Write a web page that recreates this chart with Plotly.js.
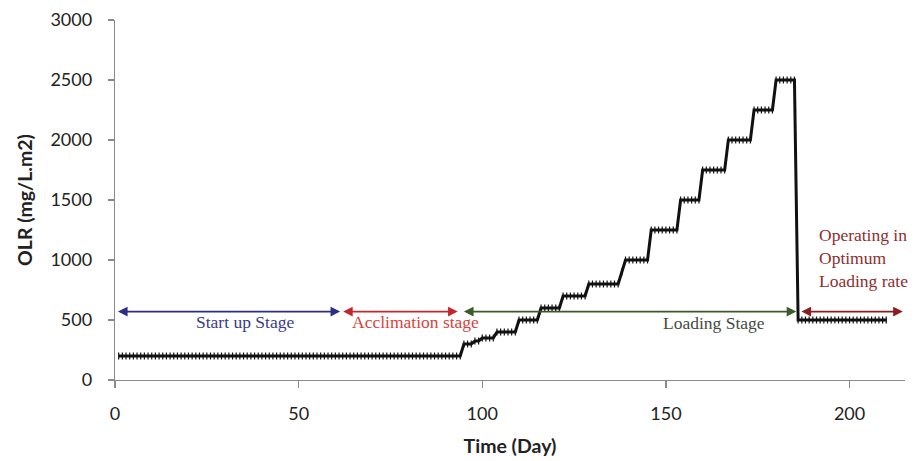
<!DOCTYPE html>
<html>
<head>
<meta charset="utf-8">
<script src="https://cdn.plot.ly/plotly-3.0.1.min.js"></script>
<style>html,body{margin:0;padding:0;background:#fff;}#chart{width:915px;height:461px;}</style>
</head>
<body>
<div id="chart"></div>
<script>
// Day of operation
const days = [
  1,2,3,4,5,6,7,8,9,10,
  11,12,13,14,15,16,17,18,19,20,
  21,22,23,24,25,26,27,28,29,30,
  31,32,33,34,35,36,37,38,39,40,
  41,42,43,44,45,46,47,48,49,50,
  51,52,53,54,55,56,57,58,59,60,
  61,62,63,64,65,66,67,68,69,70,
  71,72,73,74,75,76,77,78,79,80,
  81,82,83,84,85,86,87,88,89,90,
  91,92,93,94,95,96,97,98,99,100,
  101,102,103,104,105,106,107,108,109,110,
  111,112,113,114,115,116,117,118,119,120,
  121,122,123,124,125,126,127,128,129,130,
  131,132,133,134,135,136,137,138,139,140,
  141,142,143,144,145,146,147,148,149,150,
  151,152,153,154,155,156,157,158,159,160,
  161,162,163,164,165,166,167,168,169,170,
  171,172,173,174,175,176,177,178,179,180,
  181,182,183,184,185,186,187,188,189,190,
  191,192,193,194,195,196,197,198,199,200,
  201,202,203,204,205,206,207,208,209,210
];
// Organic loading rate (mg/L.m2)
const olr = [
  200,200,200,200,200,200,200,200,200,200,
  200,200,200,200,200,200,200,200,200,200,
  200,200,200,200,200,200,200,200,200,200,
  200,200,200,200,200,200,200,200,200,200,
  200,200,200,200,200,200,200,200,200,200,
  200,200,200,200,200,200,200,200,200,200,
  200,200,200,200,200,200,200,200,200,200,
  200,200,200,200,200,200,200,200,200,200,
  200,200,200,200,200,200,200,200,200,200,
  200,200,200,200,300,300,300,325,325,350,
  350,350,350,400,400,400,400,400,400,500,
  500,500,500,500,500,600,600,600,600,600,
  600,700,700,700,700,700,700,700,800,800,
  800,800,800,800,800,800,800,900,1000,1000,
  1000,1000,1000,1000,1000,1250,1250,1250,1250,1250,
  1250,1250,1250,1500,1500,1500,1500,1500,1500,1750,
  1750,1750,1750,1750,1750,1750,2000,2000,2000,2000,
  2000,2000,2000,2250,2250,2250,2250,2250,2250,2500,
  2500,2500,2500,2500,2500,500,500,500,500,500,
  500,500,500,500,500,500,500,500,500,500,
  500,500,500,500,500,500,500,500,500,500
];
// Stage arrows and labels
const stageNames = ['Start up Stage', 'Acclimation stage', 'Loading Stage', 'Operating in<br>Optimum<br>Loading rate'];
const stageStart = [0.4, 61.7, 94.6, 186.5];
const stageEnd = [61.3, 93.3, 185.5, 214.5];
const stageArrowY = 570;
const stageLabelX = [35.4, 81.7, 163, 191.2];
const stageLabelY = [480, 480, 475, 1017];
const stageArrowColor = ['#2b2d86', '#c4262e', '#3b5b2b', '#8c1c1f'];
const stageTextColor = ['#3a3c8c', '#d8423c', '#434c3f', '#8e2e30'];
const xTicks = [0, 50, 100, 150, 200];
const yTicks = [0, 500, 1000, 1500, 2000, 2500, 3000];

const annotations = [];
for (let i = 0; i < stageNames.length; i++) {
  annotations.push({
    x: stageEnd[i], y: stageArrowY, ax: stageStart[i], ay: stageArrowY,
    xref: 'x', yref: 'y', axref: 'x', ayref: 'y',
    text: '', showarrow: true, arrowside: 'end+start',
    arrowhead: 2, arrowsize: 1.2, arrowwidth: 1.6, arrowcolor: stageArrowColor[i]
  });
  annotations.push({
    x: stageLabelX[i], y: stageLabelY[i], xref: 'x', yref: 'y',
    text: stageNames[i], showarrow: false,
    xanchor: i === 3 ? 'left' : 'center', align: 'left',
    font: {family: 'Liberation Serif, Times New Roman, serif', size: 17.5, color: stageTextColor[i]}
  });
}

const trace = {
  x: days, y: olr, type: 'scatter', mode: 'lines+markers',
  line: {color: '#111', width: 3},
  marker: {symbol: 'line-ns-open', size: 5, color: '#111', line: {color: '#111', width: 1.2}},
  hoverinfo: 'skip'
};

const layout = {
  width: 915, height: 461,
  margin: {l: 115, r: 10, t: 20, b: 81},
  paper_bgcolor: '#fff', plot_bgcolor: '#fff',
  showlegend: false,
  font: {family: 'Lato, Open Sans, sans-serif', size: 18, color: '#222'},
  xaxis: {
    range: [0, 215.1], tickvals: xTicks, ticktext: xTicks.map(String),
    showgrid: false, zeroline: false, showline: true, linecolor: '#8a8a8a', linewidth: 1.2,
    ticks: 'outside', ticklen: 7, tickcolor: '#8a8a8a', tickwidth: 1.2,
    ticklabelstandoff: 10,
    tickfont: {family: 'Lato, Open Sans, sans-serif', size: 18, color: '#222'},
    title: {text: '<b>Time (Day)</b>', font: {family: 'Lato, Open Sans, sans-serif', size: 19.5, color: '#222'}, standoff: 16}
  },
  yaxis: {
    range: [0, 3000], tickvals: yTicks, ticktext: yTicks.map(String),
    showgrid: false, zeroline: false, showline: true, linecolor: '#8a8a8a', linewidth: 1.2,
    ticks: 'outside', ticklen: 6, tickcolor: '#8a8a8a', tickwidth: 1.2,
    ticklabelstandoff: 12,
    tickfont: {family: 'Lato, Open Sans, sans-serif', size: 18, color: '#222'},
    title: {text: '<b>OLR (mg/L.m2)</b>', font: {family: 'Lato, Open Sans, sans-serif', size: 19.5, color: '#222'}, standoff: 12}
  },
  annotations: annotations
};

Plotly.newPlot('chart', [trace], layout, {displayModeBar: false, staticPlot: true});
</script>
</body>
</html>
